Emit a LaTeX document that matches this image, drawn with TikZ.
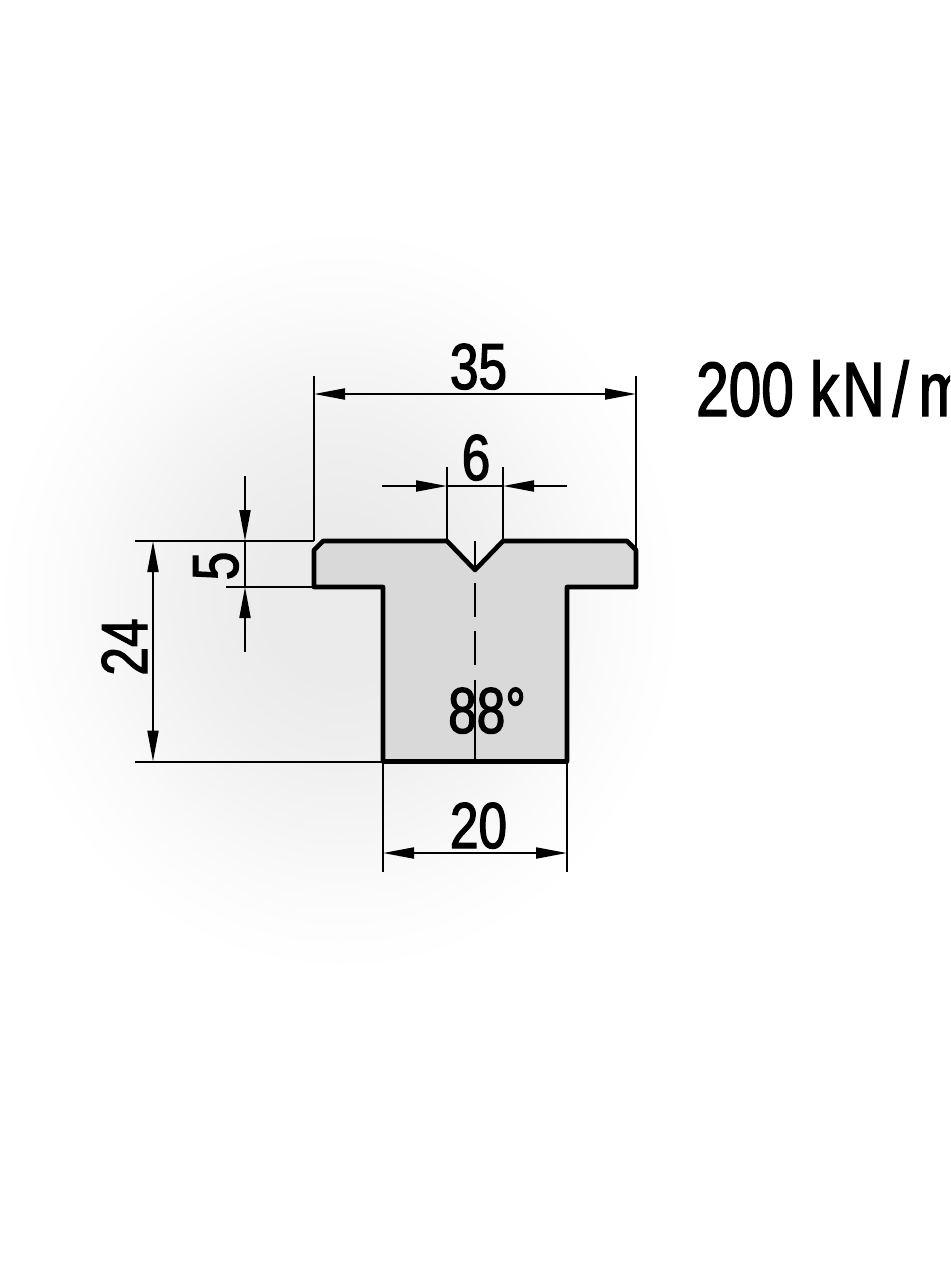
\documentclass[tikz,border=0pt]{standalone}
\usepackage{fontspec}
\usetikzlibrary{arrows.meta}
\newfontfamily\dinfont[FakeStretch=0.79,FakeBold=1.8]{Liberation Sans}
\newfontfamily\loadfont[FakeStretch=0.76,FakeBold=1.8]{Liberation Sans}
\definecolor{glowa}{gray}{0.92}
\definecolor{glowb}{gray}{0.945}
\definecolor{glowc}{gray}{0.975}
\definecolor{glowd}{gray}{0.992}
\definecolor{glowe}{gray}{1}
\pgfdeclareradialshading{glow}{\pgfpoint{0bp}{0bp}}{%
  color(0bp)=(glowa);
  color(5bp)=(glowa);
  color(12bp)=(glowb);
  color(18bp)=(glowc);
  color(22bp)=(glowd);
  color(25bp)=(glowe);
  color(50bp)=(glowe)}
\definecolor{bodygrey}{HTML}{D9D9D9}
\tikzset{
  outline/.style={draw=black,line width=4.6pt,line join=round,fill=bodygrey},
  dimline/.style={draw=black,line width=2pt},
  dimarrow/.style={draw=black,line width=2pt,-{Triangle[length=31pt,width=11pt]}},
  dimboth/.style={draw=black,line width=2pt,{Triangle[length=31pt,width=11pt]}-{Triangle[length=31pt,width=11pt]}},
  axisline/.style={draw=black,line width=1.2pt},
  dimtext/.style={inner sep=0pt,anchor=base,font=\dinfont\fontsize{65}{65}\selectfont},
  loadtext/.style={inner sep=0pt,anchor=base west,font=\loadfont\fontsize{77}{77}\selectfont}
}
\begin{document}
\begin{tikzpicture}[x=1pt,y=-1pt]
\useasboundingbox (0,0) rectangle (950,1263);
\clip (0,0) rectangle (950,1263);
\shade[shading=glow] (340,600) ellipse [x radius=345,y radius=375];
% profile
\path[outline] (323,541) -- (447,541) -- (475,570) -- (503,541) -- (627,541) -- (636,550)
  -- (636,587) -- (567,587) -- (567,761.5) -- (383,761.5) -- (383,587) -- (314,587)
  -- (314,550) -- cycle;
% named points
\coordinate (a1) at (314,376); \coordinate (a2) at (314,541);
\coordinate (b1) at (636,376); \coordinate (b2) at (636,550);
\coordinate (w35l) at (314,394); \coordinate (w35r) at (636,394);
\coordinate (c1) at (447,467); \coordinate (c2) at (447,541);
\coordinate (d1) at (503,467); \coordinate (d2) at (503,541);
\coordinate (w6a) at (382,486); \coordinate (w6b) at (447,486);
\coordinate (w6c) at (567,486); \coordinate (w6d) at (503,486);
\coordinate (h1) at (135,541); \coordinate (h2) at (226,587);
\coordinate (h3) at (135,761.5); \coordinate (h4) at (383,761.5);
\coordinate (h5) at (314,587);
\coordinate (f1) at (245,476); \coordinate (f2) at (245,541);
\coordinate (f3) at (245,652); \coordinate (f4) at (245,587);
\coordinate (t1) at (153,541); \coordinate (t2) at (153,761.5);
\coordinate (e1) at (383,761.5); \coordinate (e2) at (383,872);
\coordinate (g1) at (567,761.5); \coordinate (g2) at (567,872);
\coordinate (w20l) at (383,853); \coordinate (w20r) at (567,853);
% extension lines
\path[dimline] (a1) -- (a2);
\path[dimline] (b1) -- (b2);
\path[dimline] (c1) -- (c2);
\path[dimline] (d1) -- (d2);
\path[dimline] (h1) -- (a2);
\path[dimline] (h2) -- (h5);
\path[dimline] (h3) -- (h4);
\path[dimline] (e1) -- (e2);
\path[dimline] (g1) -- (g2);
% dimensions
\path[dimboth] (w35l) -- (w35r);
\path[dimarrow] (w6a) -- (w6b);
\path[dimarrow] (w6c) -- (w6d);
\path[dimline] (w6b) -- (w6d);
\path[dimarrow] (f1) -- (f2);
\path[dimarrow] (f3) -- (f4);
\path[dimline] (f2) -- (f4);
\path[dimboth] (t1) -- (t2);
\path[dimboth] (w20l) -- (w20r);
% labels
\node[dimtext] (l35) at (478.5,389) {35};
\node[dimtext] (l6) at (476,480) {6};
\node[dimtext] (l20) at (478.5,848) {20};
\node[dimtext] (l88) at (487,733) {88°};
\node[dimtext,rotate=90] (l24) at (147,647) {24};
\node[dimtext,rotate=90] (l5) at (238,566) {5};
\node[loadtext] (load) at (696,416) {200 k\kern3pt N\kern8pt/\kern10pt m};
% axis
\coordinate (x0) at (475,541); \coordinate (x1) at (475,570);
\coordinate (x2) at (475,583); \coordinate (x3) at (475,617);
\coordinate (x4) at (475,631); \coordinate (x5) at (475,665);
\coordinate (x6) at (475,680); \coordinate (x7) at (475,761);
\path[axisline] (x0) -- (x1);
\path[axisline] (x2) -- (x3);
\path[axisline] (x4) -- (x5);
\path[axisline] (x6) -- (x7);
\end{tikzpicture}
\end{document}
